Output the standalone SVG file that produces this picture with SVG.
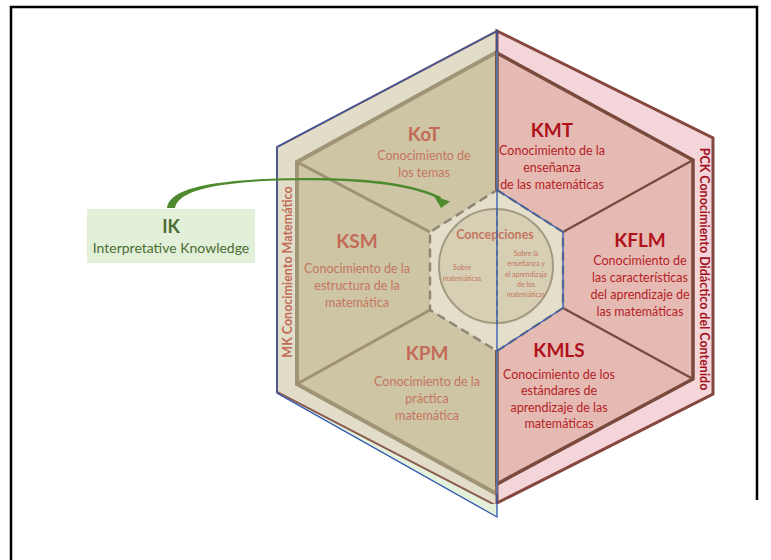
<svg xmlns="http://www.w3.org/2000/svg" width="771" height="560" viewBox="0 0 771 560">
  <defs>
    <style>
      .frame { fill: none; stroke: #000; stroke-width: 2.5; }
      .mk-title { font-family: Lato, "Liberation Sans", sans-serif; font-weight: bold; font-size: 19px; fill: #c26b57; text-anchor: middle; }
      .mk-text { font-family: Lato, "Liberation Sans", sans-serif; font-size: 12.5px; fill: #c47560; text-anchor: middle; }
      .pck-title { font-family: Lato, "Liberation Sans", sans-serif; font-weight: bold; font-size: 19px; fill: #b0121c; text-anchor: middle; }
      .pck-text { font-family: Lato, "Liberation Sans", sans-serif; font-size: 12.5px; fill: #b51e26; text-anchor: middle; }
      .conc { font-family: Lato, "Liberation Sans", sans-serif; fill: #c47560; text-anchor: middle; }
      .side { font-family: Lato, "Liberation Sans", sans-serif; font-weight: bold; font-size: 12.5px; text-anchor: middle; }
      .ik { font-family: Lato, "Liberation Sans", sans-serif; fill: #4a6d32; text-anchor: middle; }
      .div-mk { stroke: #9e9175; stroke-width: 3; fill: none; }
      .div-pck { stroke: #7b4c3e; stroke-width: 2.5; fill: none; }
      .blue { fill: none; stroke: #2f56b0; stroke-width: 1.3; }
    </style>
    <clipPath id="photo">
      <rect x="0" y="0" width="771" height="504"/>
    </clipPath>
  </defs>

  <!-- page frame -->
  <path class="frame" d="M11,560 L11,7 L757,7 L757,500"/>

  <!-- left half outline (MK) with pale green fill -->
  <polygon points="497,31 277,147 277,393 497,517" fill="#e3f0da" stroke="none"/>

  <g id="mk-half" clip-path="url(#photo)">
    <polygon points="497,31 277,147 277,392 497,506" fill="#e1ddc8" stroke="#8c5c50" stroke-width="2"/>
    <polygon points="497,52 297,162 297,384 497,494" fill="#cec5a5" stroke="#a09477" stroke-width="4"/>
  </g>

  <g id="pck-half" clip-path="url(#photo)">
    <polygon points="497,31 713,138 713,394 497,503" fill="#f4d6da" stroke="#86483e" stroke-width="3"/>
    <polygon points="497,53 693,160 693,379 497,484" fill="#e5bab3" stroke="#7a4a3c" stroke-width="3.5"/>
  </g>

  <!-- dividers between knowledge domains -->
  <g id="connectors">
    <path class="div-mk" d="M430,232 L297,162"/>
    <path class="div-mk" d="M430,310 L297,384"/>
    <path class="div-pck" d="M563,232 L693,160"/>
    <path class="div-pck" d="M563,308 L693,379"/>
    <path d="M497,52 L497,494" stroke="#b3a98a" stroke-width="2"/>
  </g>

  <!-- central conceptions hexagon -->
  <g id="concepciones">
    <polygon points="497,190 563,232 563,308 497,351 430,310 430,232" fill="#e3dfcb" stroke="#8f8775" stroke-width="2.5" stroke-dasharray="9,5"/>
    <circle cx="496" cy="266" r="57" fill="#d7cfb4" stroke="#a39a82" stroke-width="2"/>
    <path d="M497,210 L497,324" stroke="#8f8775" stroke-width="1.5" stroke-dasharray="6,4"/>
    <text class="conc" x="495" y="239" font-size="12.5" font-weight="bold">Concepciones</text>
    <text class="conc" x="462" y="270" font-size="7">Sobre</text>
    <text class="conc" x="462" y="281" font-size="7">matemáticas</text>
    <text class="conc" x="526" y="256" font-size="7">Sobre la</text>
    <text class="conc" x="526" y="266" font-size="7">enseñanza y</text>
    <text class="conc" x="526" y="277" font-size="7">el aprendizaje</text>
    <text class="conc" x="526" y="287" font-size="7">de los</text>
    <text class="conc" x="526" y="297" font-size="7">matemáticas</text>
  </g>

  <!-- blue outline over the seam -->
  <polygon class="blue" points="497,31 277,147 277,393 497,517"/>
  <polyline class="blue" points="497,190 563,232 563,308 497,351"/>

  <g id="kot">
    <text class="mk-title" x="424" y="141">KoT</text>
    <text class="mk-text" x="424" y="160">Conocimiento de</text>
    <text class="mk-text" x="424" y="177">los temas</text>
  </g>
  <g id="ksm">
    <text class="mk-title" x="357" y="248">KSM</text>
    <text class="mk-text" x="357" y="273">Conocimiento de la</text>
    <text class="mk-text" x="357" y="290">estructura de la</text>
    <text class="mk-text" x="357" y="307">matemática</text>
  </g>
  <g id="kpm">
    <text class="mk-title" x="427" y="360">KPM</text>
    <text class="mk-text" x="427" y="386">Conocimiento de la</text>
    <text class="mk-text" x="427" y="403">práctica</text>
    <text class="mk-text" x="427" y="420">matemática</text>
  </g>

  <g id="kmt">
    <text class="pck-title" x="552" y="137">KMT</text>
    <text class="pck-text" x="552" y="155">Conocimiento de la</text>
    <text class="pck-text" x="552" y="172">enseñanza</text>
    <text class="pck-text" x="552" y="189">de las matemáticas</text>
  </g>
  <g id="kflm">
    <text class="pck-title" x="640" y="247">KFLM</text>
    <text class="pck-text" x="640" y="265">Conocimiento de</text>
    <text class="pck-text" x="640" y="282">las características</text>
    <text class="pck-text" x="640" y="299">del aprendizaje de</text>
    <text class="pck-text" x="640" y="316">las matemáticas</text>
  </g>
  <g id="kmls">
    <text class="pck-title" x="559" y="357">KMLS</text>
    <text class="pck-text" x="559" y="379">Conocimiento de los</text>
    <text class="pck-text" x="559" y="395">estándares de</text>
    <text class="pck-text" x="559" y="412">aprendizaje de las</text>
    <text class="pck-text" x="559" y="428">matemáticas</text>
  </g>

  <g id="mk-label">
    <text class="side" fill="#c26b57" transform="translate(292,272) rotate(-90)">MK Conocimiento Matemático</text>
  </g>
  <g id="pck-label">
    <text class="side" fill="#a3121c" transform="translate(700,269) rotate(90)">PCK Conocimiento Didáctico del Contenido</text>
  </g>

  <!-- interpretative knowledge link -->
  <g id="ik-link">
    <path d="M167,208 C169,191 200,181 277,178.5 C360,176 410,182 441,197 L440,199.5 C410,184.5 360,179 277,180.5 C206,183 178,193 175,208 Z" fill="#4e8a2e"/>
    <polygon points="434,196 450,201.5 441,208" fill="#4e8a2e"/>
  </g>

  <g id="ik">
    <rect x="87" y="209" width="168" height="54" fill="#e2efd9"/>
    <text class="ik" x="171" y="233" font-size="18" font-weight="bold">IK</text>
    <text class="ik" x="171" y="253" font-size="14">Interpretative Knowledge</text>
  </g>
</svg>
